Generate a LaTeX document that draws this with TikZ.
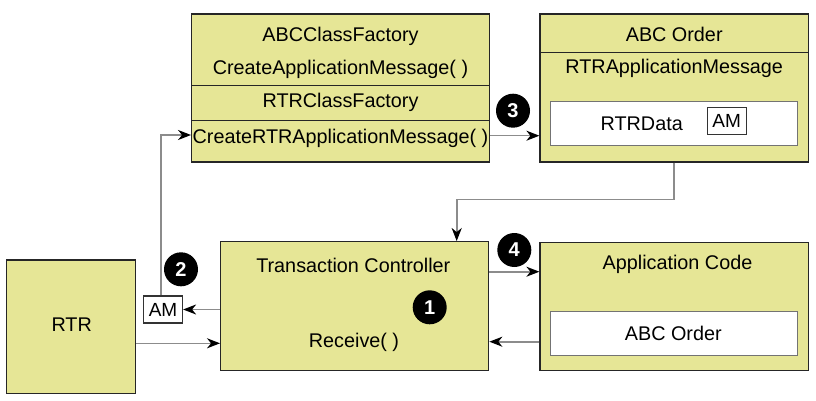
\documentclass[tikz,border=0pt]{standalone}
\usepackage{fontspec}
\setmainfont{Liberation Sans}
\usepackage{xcolor}
\usepackage{tikz}
\usetikzlibrary{arrows.meta}
\definecolor{boxfill}{RGB}{230,230,150}
\tikzstyle{block} = [rectangle, draw=black!85, line width=1.3pt, fill=boxfill, inner sep=0pt]
\tikzstyle{inner} = [rectangle, draw=black!55, line width=1pt, fill=white, inner sep=0pt]
\tikzstyle{tag} = [rectangle, draw=black!80, line width=1.2pt, fill=white, inner sep=0pt, minimum width=39pt, minimum height=27pt, font=\fontsize{19}{22}\selectfont]
\tikzstyle{label} = [inner sep=0pt, font=\fontsize{19.8}{22}\selectfont]
\tikzstyle{badge} = [circle, fill=black, text=white, minimum size=34pt, inner sep=0pt, font=\fontsize{20}{22}\selectfont\bfseries]
\tikzstyle{conn} = [draw=black!45, line width=1.6pt, -{Stealth[black,length=13pt,width=10pt,inset=4pt]}]

\begin{document}
\begin{tikzpicture}[x=1pt, y=-1pt]
      \useasboundingbox (0,0) rectangle (816,401);
      \node (factory) [block, minimum width=297.6pt, minimum height=148pt] at (340.5,88) {};
      \node (abcfac) [label] at (340.5,36) {ABCClassFactory};
      \node (camsg) [label] at (340.5,69) {CreateApplicationMessage( )};
      \node (rtrfac) [label] at (340.5,102) {RTRClassFactory};
      \node (crtr) [label] at (340.5,138) {CreateRTRApplicationMessage( )};
      \draw[black!85, line width=1pt] (factory.west |- 0,85.3) -- (factory.east |- 0,85.3);
      \draw[black!85, line width=1pt] (factory.west |- 0,120.7) -- (factory.east |- 0,120.7);

      \node (order) [block, minimum width=268.3pt, minimum height=148pt] at (674.2,88) {};
      \node (ordtitle) [label] at (674.2,34) {ABC Order};
      \node (rtrmsg) [label] at (674.2,68.3) {RTRApplicationMessage};
      \draw[black!85, line width=1pt] (order.west |- 0,52.3) -- (order.east |- 0,52.3);
      \node (rtrdata) [inner, minimum width=247pt, minimum height=44pt] at (674.2,123.7) {};
      \node (rtrdatatxt) [label] at (641.7,123.3) {RTRData};
      \node (amright) [tag] at (726.7,121.3) {AM};

      \node (rtr) [block, minimum width=129pt, minimum height=133.3pt] at (71.2,326.7) {};
      \node (rtrtxt) [label] at (71.7,325) {RTR};
      \node (amleft) [tag] at (163,309.5) {AM};

      \node (tc) [block, minimum width=268pt, minimum height=129pt] at (354.7,306.2) {};
      \node (tctitle) [label] at (353.3,265) {Transaction Controller};
      \node (recv) [label] at (354,342.3) {Receive( )};

      \node (app) [block, minimum width=268.3pt, minimum height=128pt] at (674.2,306.7) {};
      \node (apptitle) [label] at (677.5,264) {Application Code};
      \node (abcorder) [inner, minimum width=247pt, minimum height=44pt] at (674.2,333) {};
      \node (abcordertxt) [label] at (673.3,333.3) {ABC Order};

      \node (one) [badge] at (429.7,307.3) {1};
      \node (two) [badge] at (181,269.3) {2};
      \node (three) [badge] at (513,110.7) {3};
      \node (four) [badge] at (514.3,250) {4};

      \coordinate (bend) at (456.7,199.3);
      \draw[conn] ([xshift=-2.3pt]amleft.north) |- (factory.west |- 0,135);
      \draw[conn] (factory.east |- 0,135.7) -- (order.west |- 0,135.7);
      \draw[conn] (order.south) |- (bend) -- (bend |- tc.north);
      \draw[conn] (tc.west |- amleft) -- (amleft.east);
      \draw[conn] (rtr.east |- 0,343.3) -- (tc.west |- 0,343.3);
      \draw[conn] (tc.east |- 0,271.7) -- (app.west |- 0,271.7);
      \draw[conn] (app.west |- 0,341.7) -- (tc.east |- 0,341.7);
    \end{tikzpicture}
\end{document}
